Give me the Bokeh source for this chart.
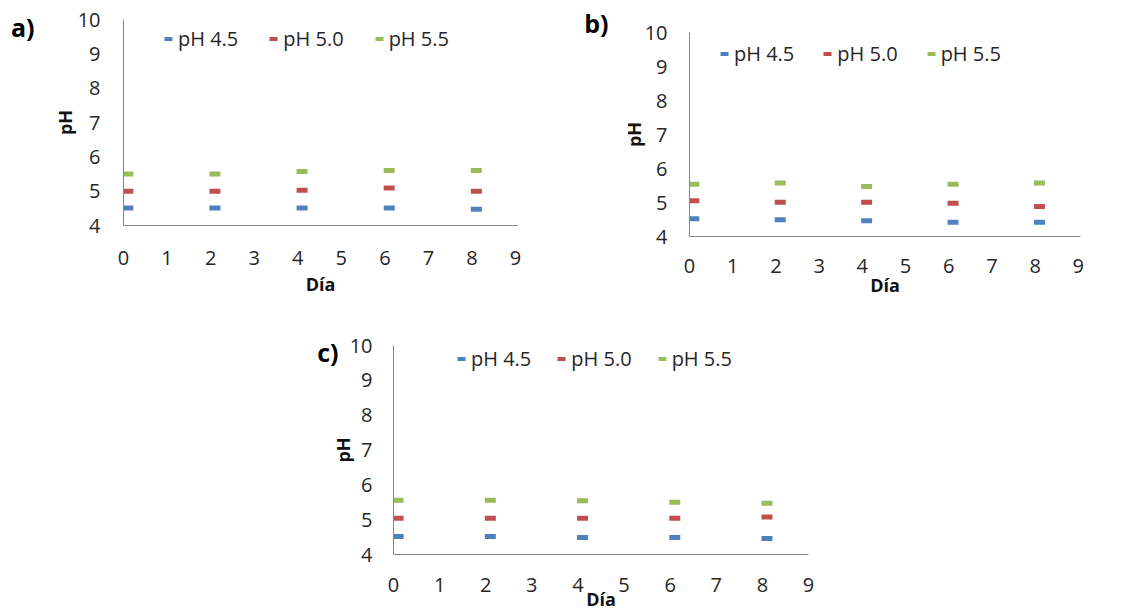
from bokeh.plotting import figure
from bokeh.models import (Range1d, FixedTicker, Legend, LegendItem, LinearAxis,
                          ColumnDataSource, Spacer)
from bokeh.layouts import row, column
from bokeh.transform import dodge
from bokeh.embed import file_html
from bokeh.resources import INLINE

# ---------------- data ----------------
days = [0, 2, 4, 6, 8]
series_labels = ["pH 4.5", "pH 5.0", "pH 5.5"]
series_colors = ["#4F81BD", "#C0504D", "#9BBB59"]

a_ph45 = [4.51, 4.51, 4.51, 4.51, 4.47]
a_ph50 = [5.00, 5.00, 5.03, 5.09, 5.00]
a_ph55 = [5.50, 5.50, 5.57, 5.60, 5.60]

b_ph45 = [4.52, 4.49, 4.46, 4.42, 4.42]
b_ph50 = [5.05, 5.01, 5.01, 4.98, 4.88]
b_ph55 = [5.54, 5.57, 5.47, 5.54, 5.57]

c_ph45 = [4.52, 4.52, 4.49, 4.49, 4.46]
c_ph50 = [5.04, 5.04, 5.04, 5.04, 5.08]
c_ph55 = [5.56, 5.56, 5.54, 5.50, 5.47]

x_ticks = [0, 1, 2, 3, 4, 5, 6, 7, 8, 9]
y_ticks = [4, 5, 6, 7, 8, 9, 10]
x_title = "Día"
y_title = "pH"

FONT = "Open Sans"
TXT = "#262626"
AXC = "#868686"


def panel(tag, series, w, h, bl, br, bt, bb, xmax, tick_sx, tick_sy,
          xlab_standoff, ylab_standoff, tag_standoff, tag_lh, leg_loc, leg_spacing):
    p = figure(width=w, height=h, x_range=Range1d(0, xmax), y_range=Range1d(4, 10),
               output_backend="svg", toolbar_location=None,
               min_border_left=bl, min_border_right=br,
               min_border_top=bt, min_border_bottom=bb)
    p.outline_line_color = None
    p.xgrid.visible = False
    p.ygrid.visible = False

    for ax, ticks, standoff in ((p.xaxis[0], x_ticks, tick_sx), (p.yaxis[0], y_ticks, tick_sy)):
        ax.ticker = FixedTicker(ticks=ticks)
        ax.axis_line_color = AXC
        ax.axis_line_width = 1
        ax.major_tick_line_color = None
        ax.minor_tick_line_color = None
        ax.major_tick_out = 0
        ax.major_tick_in = 0
        ax.major_label_standoff = standoff
        ax.major_label_text_font = FONT
        ax.major_label_text_font_size = "20px"
        ax.major_label_text_color = TXT
        ax.axis_label_text_font = FONT
        ax.axis_label_text_font_style = "bold"
        ax.axis_label_text_font_size = "18px"
        ax.axis_label_text_color = "#111111"

    p.xaxis.axis_label = x_title
    p.xaxis.axis_label_standoff = xlab_standoff
    p.yaxis.axis_label = y_title
    p.yaxis.axis_label_standoff = ylab_standoff

    tag_axis = LinearAxis(ticker=FixedTicker(ticks=[]), axis_line_color=None,
                          major_tick_line_color=None, minor_tick_line_color=None,
                          axis_label=tag, axis_label_standoff=tag_standoff,
                          axis_label_orientation="horizontal", axis_label_align="end",
                          axis_label_text_font=FONT, axis_label_text_font_style="bold",
                          axis_label_text_font_size="25px", axis_label_text_color="black",
                          axis_label_text_line_height=tag_lh)
    p.add_layout(tag_axis, "left")

    items = []
    for vals, lab, col in zip(series, series_labels, series_colors):
        src = ColumnDataSource(dict(day=days, v=vals))
        r = p.rect(x=dodge("day", 0.1), y="v", width=11, height=5,
                   width_units="screen", height_units="screen",
                   fill_color=col, line_color=None, source=src)
        items.append(LegendItem(label=lab, renderers=[r]))

    leg = Legend(items=items, location=leg_loc, orientation="horizontal",
                 glyph_width=10, glyph_height=5, label_standoff=5,
                 spacing=leg_spacing, padding=0, margin=0, label_height=30,
                 border_line_color=None, background_fill_alpha=0,
                 label_text_font=FONT, label_text_font_size="20px",
                 label_text_color=TXT)
    p.add_layout(leg)
    return p


pa = panel("\na)", [a_ph45, a_ph50, a_ph55], 560, 305, 123, 43, 19, 80, 9.045,
           25, 23, 4, -2, 15, 0.44, (40, 172), 30)
pb = panel("b)\n", [b_ph45, b_ph50, b_ph55], 578, 305, 129, 58, 32, 69, 9.05,
           22, 22, -3, -4, 10, 0.53, (30, 168), 28)
pc = panel("\nc)", [c_ph45, c_ph50, c_ph55], 580, 308, 93, 72, 40, 57, 9.0,
           23, 21, -8, -8, -11, 0.4, (63, 181), 25)

layout = column(row(column(pa), column(pb)), row(Spacer(width=300, height=308), pc))

open("out.html", "w").write(file_html(layout, INLINE))
